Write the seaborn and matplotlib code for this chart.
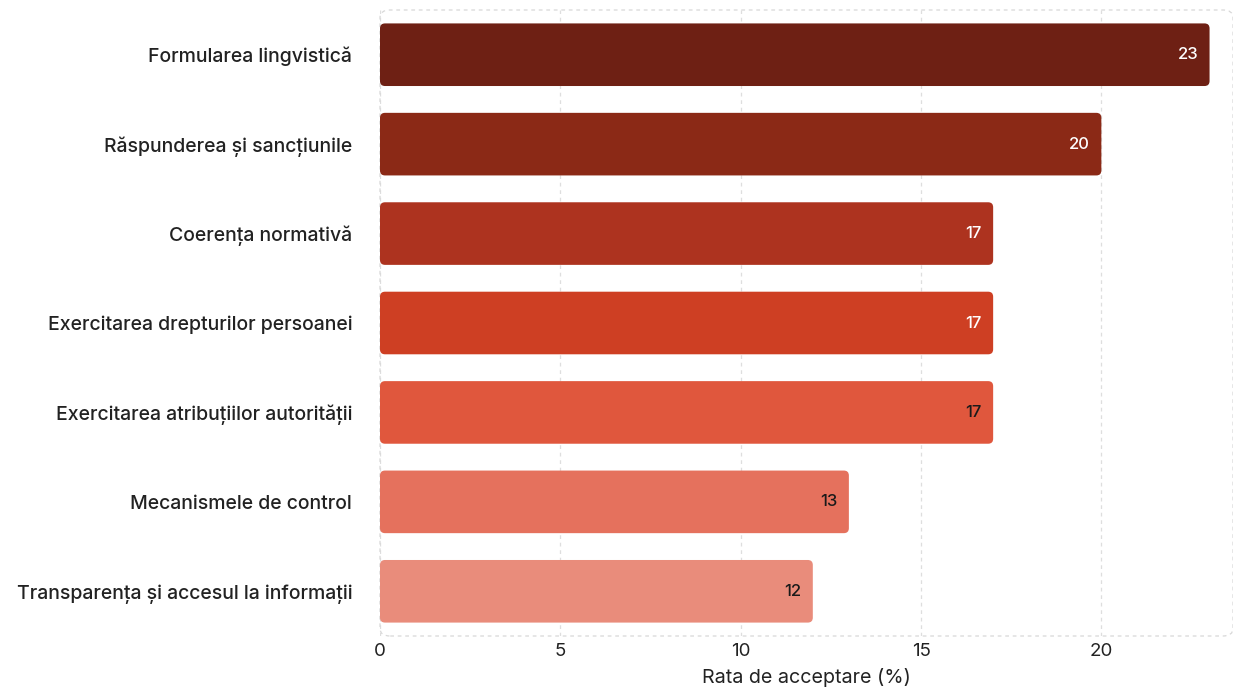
import matplotlib
matplotlib.use("Agg")
import matplotlib.pyplot as plt
from matplotlib.patches import FancyBboxPatch
import seaborn as sns
import pandas as pd

categories = [
    "Formularea lingvistică",
    "Răspunderea și sancțiunile",
    "Coerența normativă",
    "Exercitarea drepturilor persoanei",
    "Exercitarea atribuțiilor autorității",
    "Mecanismele de control",
    "Transparența și accesul la informații",
]
values = [23, 20, 17, 17, 17, 13, 12]
bar_colors = ["#6E2014", "#8B2916", "#AD331F", "#CE3F23", "#E0573D", "#E5715D", "#E98C7B"]
label_colors = ["white", "white", "white", "white", "#1a1a1a", "#1a1a1a", "#1a1a1a"]
xticks = [0, 5, 10, 15, 20]
xlabel = "Rata de acceptare (%)"

sns.set_theme(style="white")
plt.rcParams["font.family"] = ["Inter", "DejaVu Sans"]

df = pd.DataFrame({"categorie": categories, "valoare": values})

W, H = 1233, 690
fig = plt.figure(figsize=(W / 100, H / 100), dpi=100)
ax = fig.add_axes([380 / W, 1 - 636 / H, 1 - 380 / W, (636 - 10) / H])

sns.barplot(data=df, y="categorie", x="valoare", hue="categorie",
            palette=bar_colors, saturation=1, legend=False, width=0.7,
            ax=ax, zorder=3)

xmax = 23.65
ax.set_xlim(0, xmax)
ax.set_ylim(6.5, -0.5)

# swap rectangular bars for rounded ones
px_x = (W - 380) / xmax
px_y = 626 / 7
r_px = 5
for p in list(ax.patches):
    x0, y0 = p.get_x(), p.get_y()
    w, h = p.get_width(), p.get_height()
    fc = p.get_facecolor()
    p.remove()
    fb = FancyBboxPatch((x0, y0), w, h,
                        boxstyle=f"round,pad=0,rounding_size={r_px / px_x}",
                        mutation_aspect=px_x / px_y,
                        facecolor=fc, edgecolor="none", zorder=3)
    ax.add_patch(fb)

for i, v in enumerate(values):
    ax.annotate(f"{v}", xy=(v, i), xytext=(-8, 0), textcoords="offset points",
                ha="right", va="center", fontsize=12, color=label_colors[i],
                fontweight="medium", zorder=4)

for xt in xticks:
    ax.axvline(xt, color="#dedede", lw=0.9, ls=(0, (3, 3)), zorder=1)

for s in ax.spines.values():
    s.set_visible(False)

frame = FancyBboxPatch((0, 0), 1, 1, transform=ax.transAxes,
                       boxstyle="round,pad=0,rounding_size=0.012",
                       facecolor="none", edgecolor="#d8d8d8", lw=0.9,
                       ls=(0, (3, 3)), zorder=1, clip_on=False)
ax.add_patch(frame)

ax.set_xticks(xticks)
ax.set_xticklabels([str(t) for t in xticks])
ax.tick_params(axis="x", length=0, pad=5, labelsize=13.5, labelcolor="#222222")
ax.tick_params(axis="y", length=0, pad=20, labelsize=14, labelcolor="#222222")
for lbl in ax.get_yticklabels():
    lbl.set_fontweight("medium")
ax.set_ylabel("")
ax.set_xlabel(xlabel, fontsize=14.2, color="#222222", labelpad=6)
ax.grid(False)

fig.savefig("out.png", dpi=100)
